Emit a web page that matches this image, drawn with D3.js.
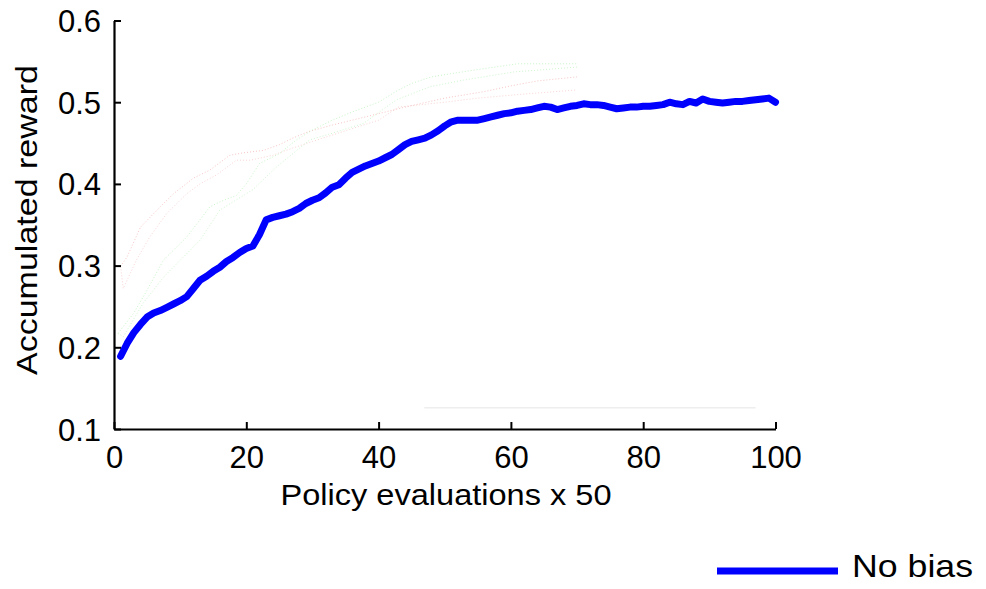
<!DOCTYPE html>
<html>
<head>
<meta charset="utf-8">
<script src="https://cdn.jsdelivr.net/npm/d3@7"></script>
<style>
  html, body { margin: 0; padding: 0; background: #ffffff; }
  svg { display: block; }
  text { font-family: "Liberation Sans", Arial, Helvetica, sans-serif; fill: #000; }
</style>
</head>
<body>
<svg id="chart" width="986" height="589"></svg>
<script>
// ---- data ----
const xTicks = [0, 20, 40, 60, 80, 100];
const yTicks = [0.1, 0.2, 0.3, 0.4, 0.5, 0.6];
const xLabel = "Policy evaluations x 50";
const yLabel = "Accumulated reward";
const seriesName = "No bias";

// main series, evaluations 1..100
const noBiasX = d3.range(1, 101);
const noBiasY = [
  0.189, 0.205, 0.218, 0.228, 0.237, 0.242, 0.245, 0.249, 0.253, 0.257,
  0.262, 0.272, 0.282, 0.287, 0.293, 0.298, 0.305, 0.310, 0.316, 0.321,
  0.324, 0.338, 0.356, 0.359, 0.361, 0.363, 0.366, 0.370, 0.376, 0.380,
  0.383, 0.389, 0.396, 0.399, 0.407, 0.414, 0.418, 0.422, 0.425, 0.428,
  0.432, 0.436, 0.442, 0.448, 0.452, 0.454, 0.456, 0.460, 0.465, 0.471,
  0.476, 0.478, 0.478, 0.478, 0.478, 0.480, 0.482, 0.484, 0.486, 0.487,
  0.489, 0.490, 0.491, 0.493, 0.495, 0.494, 0.491, 0.493, 0.495, 0.496,
  0.498, 0.497, 0.497, 0.496, 0.494, 0.492, 0.493, 0.494, 0.494, 0.495,
  0.495, 0.496, 0.497, 0.500, 0.498, 0.497, 0.501, 0.499, 0.504, 0.501,
  0.500, 0.499, 0.500, 0.501, 0.501, 0.502, 0.503, 0.504, 0.505, 0.500
];

// faint dotted remnants (red and green)
const redAX = [1, 2, 4, 7, 9, 12, 14.5, 17.5, 19.5, 22.6, 25, 27, 29.4, 33, 37, 41, 44, 50, 56, 60, 64, 70];
const redAY = [0.299, 0.311, 0.347, 0.372, 0.388, 0.407, 0.417, 0.435, 0.438, 0.441, 0.448, 0.456, 0.464, 0.472, 0.480, 0.488, 0.494, 0.505, 0.513, 0.520, 0.526, 0.531];
const redBX = [1, 1.4, 3.4, 5.4, 8, 11, 13, 15.5, 18.5, 20.6, 24, 26, 30, 35, 40, 43, 50, 55, 62, 70];
const redBY = [0.299, 0.272, 0.307, 0.335, 0.364, 0.388, 0.400, 0.411, 0.429, 0.429, 0.435, 0.441, 0.452, 0.465, 0.478, 0.494, 0.500, 0.505, 0.510, 0.515];
const greenAX = [0.6, 3, 5, 7.5, 11, 14.5, 16, 18.5, 20, 22, 25, 27.6, 30, 33, 36, 40, 43, 45, 48, 51, 55, 61, 65, 70];
const greenAY = [0.217, 0.242, 0.270, 0.307, 0.335, 0.372, 0.378, 0.386, 0.400, 0.425, 0.437, 0.454, 0.466, 0.478, 0.488, 0.500, 0.515, 0.523, 0.531, 0.535, 0.540, 0.547, 0.547, 0.547];
const greenBX = [0.6, 1.4, 4.4, 7.5, 13, 16, 21, 24.6, 29.6, 33, 37.7, 42.7, 47.8, 52.8, 60.4, 70];
const greenBY = [0.217, 0.213, 0.254, 0.286, 0.331, 0.368, 0.393, 0.421, 0.454, 0.462, 0.474, 0.503, 0.519, 0.527, 0.537, 0.543];
const greyX = [46.9, 97];
const greyY = [0.126, 0.126];

// ---- drawing ----
const svg = d3.select("#chart");
const x = d3.scaleLinear().domain([0, 100]).range([114, 775.5]);
const y = d3.scaleLinear().domain([0.1, 0.6]).range([429, 20.5]);

const zip = (xs, ys) => xs.map((v, i) => [v, ys[i]]);
const line = d3.line().x(d => x(d[0])).y(d => y(d[1]));

// faint remnant lines
svg.append("path").datum(zip(greyX, greyY)).attr("d", line)
  .attr("fill", "none").attr("stroke", "#eeeeee").attr("stroke-width", 1.5);

const faint = [
  [redAX, redAY, "#f4b0b0", 0.75],
  [redBX, redBY, "#f4b0b0", 0.55],
  [greenAX, greenAY, "#b4f0b4", 0.75],
  [greenBX, greenBY, "#b4f0b4", 0.65]
];
faint.forEach(([xs, ys, c, o]) => {
  svg.append("path").datum(zip(xs, ys)).attr("d", line)
    .attr("fill", "none").attr("stroke", c).attr("stroke-width", 1)
    .attr("stroke-dasharray", "1,2").attr("opacity", o);
});

// main line
svg.append("path").datum(zip(noBiasX, noBiasY)).attr("d", line)
  .attr("fill", "none").attr("stroke", "#0000ff").attr("stroke-width", 7)
  .attr("stroke-linejoin", "round").attr("stroke-linecap", "round");

// axes (MATLAB style: inward ticks, left + bottom only)
const xAxis = d3.axisBottom(x).tickValues(xTicks).tickSizeInner(-7).tickSizeOuter(0)
  .tickPadding(18).tickFormat(d3.format("d"));
const gx = svg.append("g").attr("transform", `translate(0,${y(0.1)})`).call(xAxis);
gx.select(".domain").attr("stroke", "#000").attr("stroke-width", 2.2);
gx.selectAll(".tick line").attr("stroke", "#000").attr("stroke-width", 2);
gx.selectAll(".tick text").attr("font-size", 31).attr("dy", 0).attr("y", 39)
  .style("font-family", "'Liberation Sans', Arial, sans-serif");

const yAxis = d3.axisLeft(y).tickValues(yTicks).tickSizeInner(-7).tickSizeOuter(0)
  .tickPadding(13).tickFormat(d3.format(".1f"));
const gy = svg.append("g").attr("transform", `translate(${x(0)},0)`).call(yAxis);
gy.select(".domain").attr("stroke", "#000").attr("stroke-width", 2.2);
gy.selectAll(".tick line").attr("stroke", "#000").attr("stroke-width", 2);
gy.selectAll(".tick text").attr("font-size", 31).attr("dy", 0).attr("y", 11).attr("x", -13)
  .style("font-family", "'Liberation Sans', Arial, sans-serif");

// axis titles
svg.append("text").attr("x", 446).attr("y", 505).attr("text-anchor", "middle")
  .attr("font-size", 29).attr("textLength", 331).attr("lengthAdjust", "spacingAndGlyphs")
  .text(xLabel);
svg.append("text").attr("transform", "translate(37,220) rotate(-90)").attr("text-anchor", "middle")
  .attr("font-size", 29).attr("textLength", 310).attr("lengthAdjust", "spacingAndGlyphs")
  .text(yLabel);

// legend
svg.append("line").attr("x1", 717).attr("x2", 838).attr("y1", 571).attr("y2", 571)
  .attr("stroke", "#0000ff").attr("stroke-width", 7);
svg.append("text").attr("x", 852).attr("y", 577).attr("font-size", 32)
  .attr("textLength", 121).attr("lengthAdjust", "spacingAndGlyphs")
  .text(seriesName);
</script>
</body>
</html>
